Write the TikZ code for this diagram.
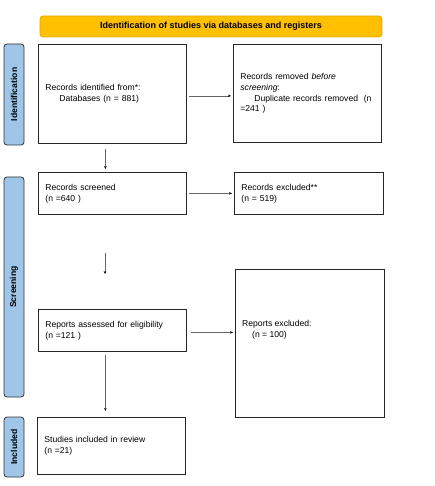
\documentclass[tikz,border=0pt]{standalone}
\usepackage{fontspec}
\setmainfont{Liberation Sans}
\usetikzlibrary{arrows.meta}
\definecolor{bannerfill}{HTML}{FFC000}
\definecolor{bannerline}{HTML}{E3AB00}
\definecolor{phasefill}{HTML}{9FC5E8}
\begin{document}
\begin{tikzpicture}[x=1pt,y=-1pt,
		box/.style={draw=black!85,line width=0.8pt,fill=white,anchor=north west,align=left,inner xsep=7pt,inner ysep=0pt,font=\fontsize{8.6}{10.8}\selectfont},
		phase/.style={draw=black!80,line width=0.8pt,fill=phasefill,rounded corners=3pt,rotate=90,minimum height=20pt,inner sep=0pt,font=\bfseries\fontsize{8.6}{9}\selectfont},
		arr/.style={draw=black!60,line width=0.6pt,-{Stealth[length=3pt,width=2.6pt,black]}}]
	\useasboundingbox (0,0) rectangle (435,486);
	\node[draw=bannerline,fill=bannerfill,rounded corners=3pt,line width=0.8pt,minimum width=342pt,minimum height=21pt,inner sep=0pt,font=\bfseries\fontsize{9}{10}\selectfont] (banner) at (211,26.5) {Identification of studies via databases and registers};
	\node[phase,minimum width=101pt] (idphase) at (14,94.5) {Identification};
	\node[phase,minimum width=220pt] (scphase) at (14,287) {Screening};
	\node[phase,minimum width=60pt] (inphase) at (14,447) {Included};
	\node[box,text width=134pt,minimum height=99pt] (identified) at (38,44) {Records identified from*:\\\hspace*{14pt}Databases (n = 881)\\[8pt]};
	\node[box,text width=134pt,minimum height=98pt] (removed) at (233,44) {Records removed \textit{before}\\\textit{screening}:\\\hspace*{14pt}Duplicate records removed~~(n\\=241 )\\[9pt]};
	\node[box,text width=134pt,minimum height=42pt] (screened) at (38,172) {Records screened\\(n =640 )\\[2pt]};
	\node[box,text width=135pt,minimum height=42pt] (excluded) at (234,172) {Records excluded**\\(n = 519)\\[2pt]};
	\node[box,text width=134pt,minimum height=42pt] (assessed) at (38,309) {Reports assessed for eligibility\\(n =121 )\\[2pt]};
	\node[box,text width=135pt,minimum height=148pt] (repexcl) at (235,269) {};
	\node[anchor=west,align=left,inner sep=0pt,font=\fontsize{8.6}{10.8}\selectfont] (repexcltxt) at ([xshift=7pt,yshift=1pt]repexcl.west |- assessed.center) {Reports excluded:\\\hspace*{10pt}(n = 100)};
	\node[box,text width=134pt,minimum height=57pt] (included) at (37,417) {Studies included in review\\(n =21)\\[10pt]};
	\coordinate (gaptop) at (105,253);
	\coordinate (gapbot) at (105,274);
	\draw[arr,shorten <=2pt,shorten >=2pt] ([yshift=-2pt]identified.east) -- ([yshift=-2pt]identified.east -| removed.west);
	\draw[arr,shorten <=2pt,shorten >=2pt] (screened.east) -- (screened.east -| excluded.west);
	\draw[arr,shorten <=4pt,shorten >=2pt] ([yshift=-2pt]assessed.east) -- ([yshift=-2pt]assessed.east -| repexcl.west);
	\draw[arr,shorten <=5pt,shorten >=3pt] ([xshift=-7pt]identified.south) -- ([xshift=-7pt]identified.south |- screened.north);
	\draw[arr] (gaptop) -- (gapbot);
	\draw[arr,shorten <=3pt,shorten >=6pt] ([xshift=-7pt]assessed.south) -- ([xshift=-7pt]assessed.south |- included.north);
\end{tikzpicture}
\end{document}
